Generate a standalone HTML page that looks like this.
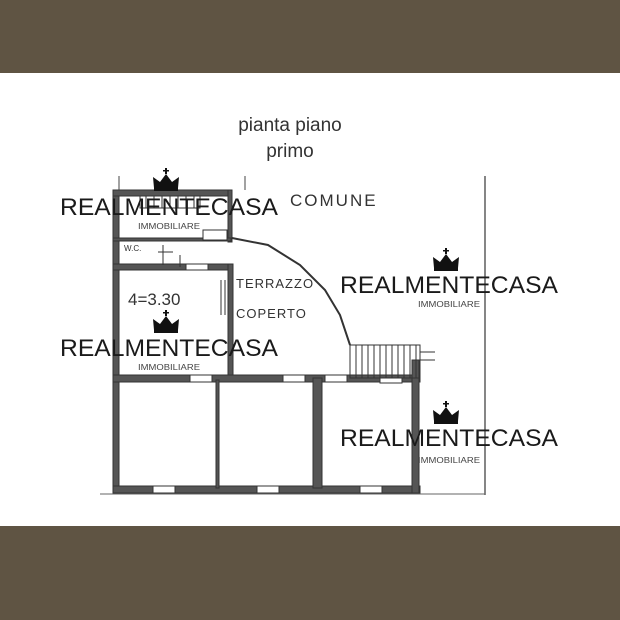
<!DOCTYPE html>
<html><head><meta charset="utf-8"><style>
html,body{margin:0;padding:0;width:620px;height:620px;overflow:hidden;background:#fff}
svg{display:block}
</style></head><body>
<svg width="620" height="620" viewBox="0 0 620 620" xmlns="http://www.w3.org/2000/svg" font-family="Liberation Sans, sans-serif">
<rect x="0" y="0" width="620" height="73" fill="#5f5443"/>
<rect x="0" y="526" width="620" height="94" fill="#5f5443"/>
<text x="290" y="131" font-size="19" fill="#333" text-anchor="middle">pianta piano</text>
<text x="290" y="157" font-size="19" fill="#333" text-anchor="middle">primo</text>
<g fill="#555" stroke="#333" stroke-width="1">
<!-- outer left wall -->
<rect x="113" y="190" width="6" height="303"/>
<rect x="113" y="190" width="119" height="6"/>
<rect x="228" y="190" width="4" height="52"/>
<rect x="113" y="238" width="118" height="3"/>
<rect x="113" y="264" width="119" height="6"/>
<rect x="228" y="264" width="5" height="114"/>
<rect x="113" y="375" width="307" height="7"/>
<rect x="113" y="486" width="307" height="7"/>
<rect x="216" y="380" width="3" height="108"/>
<rect x="313" y="378" width="9" height="110"/>
<rect x="412" y="360" width="7" height="133"/>
</g>
<g fill="#fff" stroke="#333" stroke-width="1">
<rect x="186" y="264" width="22" height="6"/>
<rect x="190" y="375" width="22" height="7"/>
<rect x="283" y="375" width="22" height="7"/>
<rect x="325" y="375" width="22" height="7"/>
<rect x="380" y="378" width="22" height="5"/>
<rect x="153" y="486" width="22" height="7"/>
<rect x="257" y="486" width="22" height="7"/>
<rect x="360" y="486" width="22" height="7"/>
<rect x="203" y="230" width="24" height="10"/>
</g>
<line x1="119" y1="176" x2="119" y2="190" stroke="#444"/>
<line x1="245" y1="176" x2="245" y2="190" stroke="#444"/>
<line x1="485" y1="176" x2="485" y2="495" stroke="#444" stroke-width="1.3"/>
<line x1="100" y1="494" x2="485" y2="494" stroke="#666"/>
<path d="M232 238 L268 245 L300 265 L325 290 L340 315 L350 345" fill="none" stroke="#333" stroke-width="2"/>
<g stroke="#333" stroke-width="1" fill="none">
<rect x="350" y="345" width="70" height="33"/>
<path d="M356 345v33M362 345v33M368 345v33M374 345v33M380 345v33M386 345v33M392 345v33M398 345v33M404 345v33M410 345v33M416 345v33"/>
<path d="M420 352h15M420 360h15"/>
<path d="M140 196v12h60v-12M146 196v12M154 196v12M162 196v12M170 196v12M178 196v12M186 196v12M194 196v12"/>
<path d="M163 245v20M158 252h15M180 255v12M97+0"/>
<path d="M225 280v35M221 280v35"/>
</g>
<g font-family="Liberation Sans, sans-serif" fill="#333">
<text x="290" y="206" font-size="17" letter-spacing="2">COMUNE</text>
<text x="236" y="288" font-size="13" letter-spacing="1">TERRAZZO</text>
<text x="236" y="318" font-size="13" letter-spacing="1">COPERTO</text>
<text x="128" y="305" font-size="17">4=3.30</text>
<text x="124" y="251" font-size="8">W.C.</text>
</g>
<g fill="#111">
<g transform="translate(166,180)"><path d="M-12 8 L-13 -3 L-6 2 L0 -6 L6 2 L13 -3 L12 8Z"/><rect x="-12" y="8" width="24" height="3"/><rect x="-1" y="-12" width="2" height="6"/><rect x="-3" y="-10" width="6" height="1.5"/></g>
<g transform="translate(166,322)"><path d="M-12 8 L-13 -3 L-6 2 L0 -6 L6 2 L13 -3 L12 8Z"/><rect x="-12" y="8" width="24" height="3"/><rect x="-1" y="-12" width="2" height="6"/><rect x="-3" y="-10" width="6" height="1.5"/></g>
<g transform="translate(446,260)"><path d="M-12 8 L-13 -3 L-6 2 L0 -6 L6 2 L13 -3 L12 8Z"/><rect x="-12" y="8" width="24" height="3"/><rect x="-1" y="-12" width="2" height="6"/><rect x="-3" y="-10" width="6" height="1.5"/></g>
<g transform="translate(446,413)"><path d="M-12 8 L-13 -3 L-6 2 L0 -6 L6 2 L13 -3 L12 8Z"/><rect x="-12" y="8" width="24" height="3"/><rect x="-1" y="-12" width="2" height="6"/><rect x="-3" y="-10" width="6" height="1.5"/></g>
</g>
<g fill="#1a1a1a">
<text x="60" y="215" font-size="24" textLength="218" lengthAdjust="spacingAndGlyphs">REALMENTECASA</text>
<text x="138" y="229" font-size="8.5" fill="#444" textLength="62" lengthAdjust="spacingAndGlyphs">IMMOBILIARE</text>
<text x="60" y="356" font-size="24" textLength="218" lengthAdjust="spacingAndGlyphs">REALMENTECASA</text>
<text x="138" y="370" font-size="8.5" fill="#444" textLength="62" lengthAdjust="spacingAndGlyphs">IMMOBILIARE</text>
<text x="340" y="293" font-size="24" textLength="218" lengthAdjust="spacingAndGlyphs">REALMENTECASA</text>
<text x="418" y="307" font-size="8.5" fill="#444" textLength="62" lengthAdjust="spacingAndGlyphs">IMMOBILIARE</text>
<text x="340" y="446" font-size="24" textLength="218" lengthAdjust="spacingAndGlyphs">REALMENTECASA</text>
<text x="418" y="463" font-size="8.5" fill="#444" textLength="62" lengthAdjust="spacingAndGlyphs">IMMOBILIARE</text>
</g>
</svg>
</body></html>
